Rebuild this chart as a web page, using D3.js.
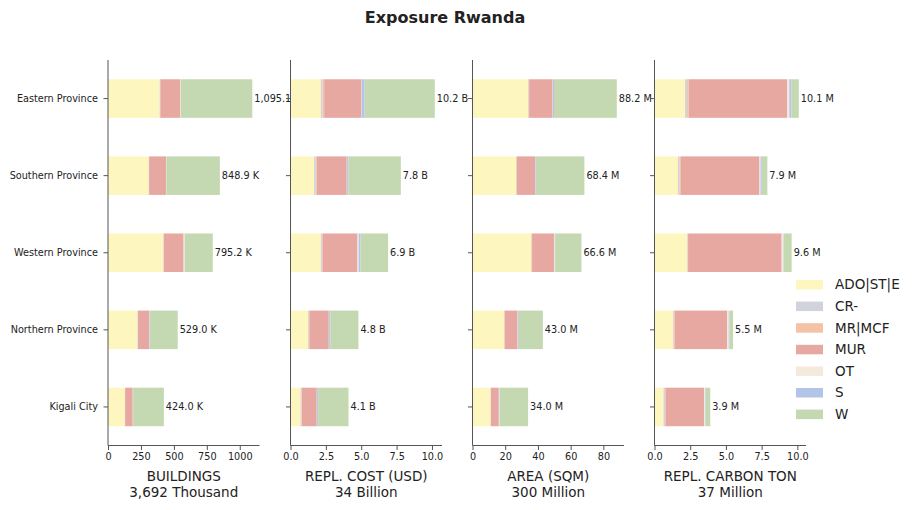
<!DOCTYPE html>
<html>
<head>
<meta charset="utf-8">
<script src="https://cdn.jsdelivr.net/npm/d3@7.8.5/dist/d3.min.js"></script>
<style>
  body { margin: 0; background: #fff; }
  svg { font-family: "DejaVu Sans", sans-serif; }
</style>
</head>
<body>
<div id="chart"></div>
<script>
// categories (top to bottom) and building classes (stack order)
const provinces = ['Eastern Province', 'Southern Province', 'Western Province', 'Northern Province', 'Kigali City'];
const classes = ['ADO|ST|E', 'CR-', 'MR|MCF', 'MUR', 'OT', 'S', 'W'];
const classColors = ['#fef6bf', '#d0d3dc', '#f4c3a7', '#e7a8a2', '#f4e9dd', '#b2c5e8', '#c4d9b1'];

// one row per province, one value per class
const buildings = [   // thousand
  [392, 4, 1, 152, 4, 1, 541.1],
  [309, 2, 1, 128, 2, 1, 405.9],
  [420, 2, 1, 151, 8, 1, 212.2],
  [224, 3, 1, 84, 3, 4, 210],
  [128, 1, 1, 58, 2, 1, 233]
];
const replCost = [    // billion USD
  [2.14, 0.12, 0.12, 2.64, 0.02, 0.2, 4.96],
  [1.67, 0.12, 0.07, 2.12, 0.02, 0.1, 3.7],
  [2.14, 0.08, 0.07, 2.45, 0.08, 0.13, 1.95],
  [1.24, 0.06, 0.08, 1.33, 0.02, 0.08, 1.99],
  [0.71, 0.06, 0.04, 1.05, 0.02, 0.07, 2.15]
];
const area = [        // million sqm
  [33.9, 0.4, 0.3, 14.4, 0.2, 0.6, 38.4],
  [26.6, 0.3, 0.2, 11.1, 0.2, 0.4, 29.6],
  [35.8, 0.2, 0.4, 13.4, 0.5, 0.2, 16.1],
  [19.3, 0.2, 0.2, 7.9, 0.2, 0.5, 14.7],
  [11.0, 0.2, 0.1, 4.8, 0.4, 0.2, 17.3]
];
const carbon = [      // million ton
  [2.14, 0.14, 0.11, 6.91, 0.14, 0.14, 0.52],
  [1.64, 0.12, 0.09, 5.5, 0.07, 0.09, 0.39],
  [2.28, 0.04, 0.03, 6.55, 0.12, 0.02, 0.56],
  [1.29, 0.04, 0.08, 3.68, 0.1, 0.05, 0.26],
  [0.63, 0.1, 0.04, 2.7, 0.07, 0.04, 0.32]
];

const panels = [
  { title: 'BUILDINGS', values: buildings, unit: 'K', total: 'Thousand', ticks: [0, 250, 500, 750, 1000], fmt: d3.format('d') },
  { title: 'REPL. COST (USD)', values: replCost, unit: 'B', total: 'Billion', ticks: [0, 2.5, 5, 7.5, 10], fmt: d3.format('.1f') },
  { title: 'AREA (SQM)', values: area, unit: 'M', total: 'Million', ticks: [0, 20, 40, 60, 80], fmt: d3.format('d') },
  { title: 'REPL. CARBON TON', values: carbon, unit: 'M', total: 'Million', ticks: [0, 2.5, 5, 7.5, 10], fmt: d3.format('.1f') }
];

const width = 916, height = 510;
const plotTop = 60, plotBottom = 445.5;
const panelLeft = [108, 290.5, 472.5, 654.5];
const panelW = 151.5;
const axisColor = '#555';
const textColor = '#222';

const svg = d3.select('#chart').append('svg')
  .attr('width', width)
  .attr('height', height);

svg.append('text')
  .attr('x', 445)
  .attr('y', 22.5)
  .attr('text-anchor', 'middle')
  .attr('font-size', 16)
  .attr('font-weight', 'bold')
  .attr('fill', textColor)
  .text('Exposure Rwanda');

const y = d3.scaleBand()
  .domain(provinces)
  .range([plotTop, plotBottom])
  .paddingInner(0.5)
  .paddingOuter(0.25);

const stack = d3.stack().keys(d3.range(classes.length));

panels.forEach((p, pi) => {
  const rows = p.values.map((v, i) => Object.assign({ name: provinces[i] }, v));
  const totals = p.values.map(v => d3.sum(v));
  const x = d3.scaleLinear()
    .domain([0, d3.max(totals) * 1.05])
    .range([0, panelW]);

  const g = svg.append('g').attr('transform', `translate(${panelLeft[pi]},0)`);

  const series = stack(rows);
  g.selectAll('.layer')
    .data(series)
    .enter()
    .append('g')
    .attr('fill', (d, i) => classColors[i])
    .selectAll('rect')
    .data(d => d)
    .enter()
    .append('rect')
    .attr('x', d => x(d[0]))
    .attr('width', d => Math.max(0, x(d[1]) - x(d[0])))
    .attr('y', d => y(d.data.name))
    .attr('height', y.bandwidth());

  // total labels at the end of each bar
  g.selectAll('.total')
    .data(totals)
    .enter()
    .append('text')
    .attr('x', d => x(d) + 2)
    .attr('y', (d, i) => y(provinces[i]) + y.bandwidth() / 2)
    .attr('dy', '0.35em')
    .attr('font-size', 9.7)
    .attr('fill', textColor)
    .text(d => d3.format(',.1f')(d) + ' ' + p.unit);

  // x axis
  const xAxis = d3.axisBottom(x)
    .tickValues(p.ticks)
    .tickFormat(p.fmt)
    .tickSize(4.5)
    .tickPadding(3);
  const xg = g.append('g')
    .attr('transform', `translate(0,${plotBottom})`)
    .call(xAxis);
  xg.select('.domain').attr('stroke', axisColor).attr('d', `M0,0H${panelW}`);
  xg.selectAll('.tick line').attr('stroke', axisColor);
  xg.selectAll('.tick text').attr('font-size', 9.7).attr('fill', textColor).attr('font-family', 'DejaVu Sans');

  // y axis
  const yAxis = d3.axisLeft(y).tickSize(4.5).tickPadding(5.5);
  if (pi > 0) yAxis.tickFormat('');
  const yg = g.append('g').call(yAxis);
  yg.select('.domain').attr('stroke', axisColor).attr('d', `M0,${plotTop}V${plotBottom}`);
  yg.selectAll('.tick line').attr('stroke', axisColor);
  yg.selectAll('.tick text').attr('font-size', 9.7).attr('fill', textColor).attr('font-family', 'DejaVu Sans');

  // axis titles
  const cx = panelW / 2;
  g.append('text')
    .attr('x', cx).attr('y', 481)
    .attr('text-anchor', 'middle')
    .attr('font-size', 13.5)
    .attr('fill', textColor)
    .text(p.title);
  g.append('text')
    .attr('x', cx).attr('y', 497)
    .attr('text-anchor', 'middle')
    .attr('font-size', 13.5)
    .attr('fill', textColor)
    .text(d3.format(',.0f')(d3.sum(totals)) + ' ' + p.total);
});

// legend
const legend = svg.append('g').attr('transform', 'translate(796,280)');
const items = legend.selectAll('.item')
  .data(classes)
  .enter()
  .append('g')
  .attr('transform', (d, i) => `translate(0,${i * 21.6})`);
items.append('rect')
  .attr('width', 27)
  .attr('height', 9.5)
  .attr('fill', (d, i) => classColors[i]);
items.append('text')
  .attr('x', 39)
  .attr('y', 4.75)
  .attr('dy', '0.35em')
  .attr('font-size', 13.5)
  .attr('fill', textColor)
  .text(d => d);
</script>
</body>
</html>
